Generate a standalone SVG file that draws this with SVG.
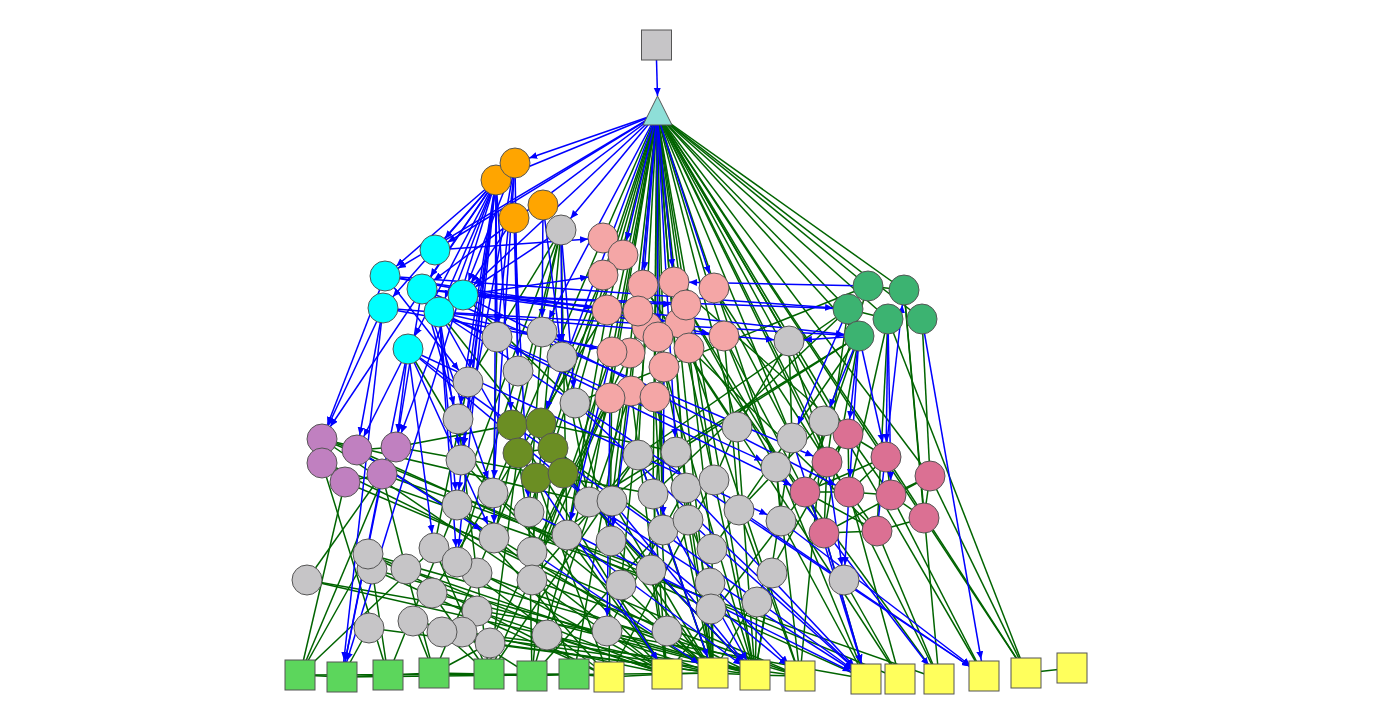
<svg xmlns="http://www.w3.org/2000/svg" width="1373" height="725" viewBox="0 0 1373 725">
<style>
.b{stroke:#0000ff;stroke-width:1.5;fill:none;marker-end:url(#ah)}
.bs{stroke:#0000ff;stroke-width:1.5;fill:none;marker-end:url(#as)}
.g{stroke:#006400;stroke-width:1.5;fill:none}
.n circle,.n rect,.n polygon{stroke:#555;stroke-width:1}
.gr{fill:#c6c5c7}.or{fill:#ffa500}.cy{fill:#00ffff}.pk{fill:#f4a6a6}.sg{fill:#3cb371}.pu{fill:#c080c0}.ol{fill:#6b8e23}.rd{fill:#db7093}.sq{fill:#5cd65c}.ye{fill:#ffff5c}
</style>
<defs>
<marker id="ah" markerUnits="userSpaceOnUse" markerWidth="10" markerHeight="8" refX="23" refY="3.5" orient="auto"><path d="M0,0 L8,3.5 L0,7 z" fill="#0000ff"/></marker>
<marker id="as" markerUnits="userSpaceOnUse" markerWidth="10" markerHeight="8" refX="25" refY="3.5" orient="auto"><path d="M0,0 L8,3.5 L0,7 z" fill="#0000ff"/></marker>
<marker id="a0" markerUnits="userSpaceOnUse" markerWidth="10" markerHeight="8" refX="8" refY="3.5" orient="auto"><path d="M0,0 L8,3.5 L0,7 z" fill="#0000ff"/></marker>
</defs>
<rect width="1373" height="725" fill="#fff"/>
<g id="connectors">
<!-- green -->
<line class="g" x1="657" y1="114" x2="868" y2="286"/>
<line class="g" x1="657" y1="114" x2="904" y2="290"/>
<line class="g" x1="657" y1="114" x2="848" y2="309"/>
<line class="g" x1="657" y1="114" x2="888" y2="319"/>
<line class="g" x1="657" y1="114" x2="922" y2="319"/>
<line class="g" x1="657" y1="114" x2="859" y2="336"/>
<line class="g" x1="657" y1="114" x2="848" y2="434"/>
<line class="g" x1="657" y1="114" x2="886" y2="457"/>
<line class="g" x1="657" y1="114" x2="930" y2="476"/>
<line class="g" x1="657" y1="114" x2="1026" y2="673"/>
<line class="g" x1="657" y1="114" x2="984" y2="676"/>
<line class="g" x1="657" y1="114" x2="789" y2="341"/>
<line class="g" x1="657" y1="114" x2="824" y2="421"/>
<line class="g" x1="657" y1="114" x2="737" y2="427"/>
<line class="g" x1="657" y1="114" x2="792" y2="438"/>
<line class="g" x1="657" y1="114" x2="603" y2="238"/>
<line class="g" x1="657" y1="114" x2="603" y2="275"/>
<line class="g" x1="657" y1="114" x2="607" y2="310"/>
<line class="g" x1="657" y1="114" x2="680" y2="323"/>
<line class="g" x1="657" y1="114" x2="724" y2="336"/>
<line class="g" x1="657" y1="114" x2="689" y2="348"/>
<line class="g" x1="657" y1="114" x2="664" y2="367"/>
<line class="g" x1="657" y1="114" x2="631" y2="391"/>
<line class="g" x1="657" y1="114" x2="655" y2="397"/>
<line class="g" x1="657" y1="114" x2="610" y2="398"/>
<line class="g" x1="657" y1="114" x2="612" y2="501"/>
<line class="g" x1="657" y1="114" x2="638" y2="455"/>
<line class="g" x1="657" y1="114" x2="686" y2="488"/>
<line class="g" x1="657" y1="114" x2="688" y2="520"/>
<line class="g" x1="657" y1="114" x2="653" y2="494"/>
<line class="g" x1="657" y1="114" x2="713" y2="673"/>
<line class="g" x1="657" y1="114" x2="755" y2="675"/>
<line class="g" x1="657" y1="114" x2="589" y2="502"/>
<line class="g" x1="657" y1="114" x2="553" y2="448"/>
<line class="g" x1="657" y1="114" x2="575" y2="403"/>
<line class="g" x1="657" y1="114" x2="714" y2="480"/>
<line class="g" x1="657" y1="114" x2="663" y2="530"/>
<line class="g" x1="657" y1="114" x2="612" y2="352"/>
<line class="g" x1="657" y1="114" x2="567" y2="535"/>
<line class="g" x1="657" y1="114" x2="827" y2="462"/>
<line class="g" x1="657" y1="114" x2="776" y2="467"/>
<line class="g" x1="657" y1="114" x2="939" y2="679"/>
<line class="g" x1="610" y1="398" x2="489" y2="674"/>
<line class="g" x1="610" y1="398" x2="532" y2="676"/>
<line class="g" x1="631" y1="391" x2="547" y2="635"/>
<line class="g" x1="655" y1="397" x2="667" y2="631"/>
<line class="g" x1="612" y1="352" x2="532" y2="580"/>
<line class="g" x1="630" y1="353" x2="532" y2="552"/>
<line class="g" x1="664" y1="367" x2="651" y2="570"/>
<line class="g" x1="689" y1="348" x2="712" y2="549"/>
<line class="g" x1="724" y1="336" x2="739" y2="510"/>
<line class="g" x1="724" y1="336" x2="805" y2="492"/>
<line class="g" x1="658" y1="337" x2="663" y2="530"/>
<line class="g" x1="680" y1="323" x2="714" y2="480"/>
<line class="g" x1="686" y1="305" x2="776" y2="467"/>
<line class="g" x1="714" y1="288" x2="792" y2="438"/>
<line class="g" x1="714" y1="288" x2="827" y2="462"/>
<line class="g" x1="674" y1="282" x2="848" y2="434"/>
<line class="g" x1="643" y1="285" x2="737" y2="427"/>
<line class="g" x1="638" y1="311" x2="611" y2="541"/>
<line class="g" x1="607" y1="310" x2="567" y2="535"/>
<line class="g" x1="603" y1="275" x2="529" y2="512"/>
<line class="g" x1="623" y1="255" x2="541" y2="423"/>
<line class="g" x1="603" y1="238" x2="493" y2="493"/>
<line class="g" x1="647" y1="327" x2="621" y2="585"/>
<line class="g" x1="655" y1="397" x2="713" y2="673"/>
<line class="g" x1="631" y1="391" x2="667" y2="674"/>
<line class="g" x1="664" y1="367" x2="755" y2="675"/>
<line class="g" x1="689" y1="348" x2="800" y2="676"/>
<line class="g" x1="612" y1="352" x2="609" y2="677"/>
<line class="g" x1="630" y1="353" x2="574" y2="674"/>
<line class="g" x1="610" y1="398" x2="490" y2="643"/>
<line class="g" x1="724" y1="336" x2="866" y2="679"/>
<line class="g" x1="603" y1="275" x2="434" y2="673"/>
<line class="g" x1="607" y1="310" x2="432" y2="593"/>
<line class="g" x1="643" y1="285" x2="900" y2="679"/>
<line class="g" x1="680" y1="323" x2="939" y2="679"/>
<line class="g" x1="658" y1="337" x2="711" y2="609"/>
<line class="g" x1="686" y1="305" x2="824" y2="533"/>
<line class="g" x1="689" y1="348" x2="877" y2="531"/>
<line class="g" x1="561" y1="230" x2="457" y2="505"/>
<line class="g" x1="561" y1="230" x2="494" y2="538"/>
<line class="g" x1="561" y1="230" x2="567" y2="535"/>
<line class="g" x1="561" y1="230" x2="512" y2="425"/>
<line class="g" x1="561" y1="230" x2="532" y2="552"/>
<line class="g" x1="561" y1="230" x2="468" y2="382"/>
<line class="g" x1="322" y1="439" x2="667" y2="674"/>
<line class="g" x1="357" y1="450" x2="713" y2="673"/>
<line class="g" x1="322" y1="463" x2="755" y2="675"/>
<line class="g" x1="345" y1="482" x2="800" y2="676"/>
<line class="g" x1="382" y1="474" x2="651" y2="570"/>
<line class="g" x1="396" y1="447" x2="653" y2="494"/>
<line class="g" x1="322" y1="439" x2="589" y2="502"/>
<line class="g" x1="357" y1="450" x2="866" y2="679"/>
<line class="g" x1="322" y1="439" x2="900" y2="679"/>
<line class="g" x1="322" y1="463" x2="939" y2="679"/>
<line class="g" x1="322" y1="463" x2="388" y2="675"/>
<line class="g" x1="345" y1="482" x2="300" y2="675"/>
<line class="g" x1="396" y1="447" x2="512" y2="425"/>
<line class="g" x1="382" y1="474" x2="406" y2="569"/>
<line class="g" x1="322" y1="439" x2="357" y2="450"/>
<line class="g" x1="357" y1="450" x2="396" y2="447"/>
<line class="g" x1="322" y1="463" x2="345" y2="482"/>
<line class="g" x1="345" y1="482" x2="382" y2="474"/>
<line class="g" x1="300" y1="675" x2="396" y2="447"/>
<line class="g" x1="300" y1="675" x2="368" y2="554"/>
<line class="g" x1="300" y1="675" x2="434" y2="548"/>
<line class="g" x1="307" y1="580" x2="713" y2="673"/>
<line class="g" x1="307" y1="580" x2="866" y2="679"/>
<line class="g" x1="307" y1="580" x2="382" y2="474"/>
<line class="g" x1="368" y1="554" x2="667" y2="674"/>
<line class="g" x1="368" y1="554" x2="800" y2="676"/>
<line class="g" x1="372" y1="569" x2="388" y2="675"/>
<line class="g" x1="372" y1="569" x2="755" y2="675"/>
<line class="g" x1="406" y1="569" x2="434" y2="673"/>
<line class="g" x1="434" y1="548" x2="489" y2="674"/>
<line class="g" x1="457" y1="562" x2="609" y2="677"/>
<line class="g" x1="477" y1="573" x2="755" y2="675"/>
<line class="g" x1="432" y1="593" x2="489" y2="674"/>
<line class="g" x1="477" y1="611" x2="667" y2="674"/>
<line class="g" x1="369" y1="628" x2="342" y2="677"/>
<line class="g" x1="369" y1="628" x2="713" y2="673"/>
<line class="g" x1="413" y1="621" x2="434" y2="673"/>
<line class="g" x1="442" y1="632" x2="755" y2="675"/>
<line class="g" x1="462" y1="632" x2="532" y2="676"/>
<line class="g" x1="490" y1="643" x2="713" y2="673"/>
<line class="g" x1="547" y1="635" x2="667" y2="674"/>
<line class="g" x1="607" y1="631" x2="755" y2="675"/>
<line class="g" x1="621" y1="585" x2="713" y2="673"/>
<line class="g" x1="532" y1="580" x2="800" y2="676"/>
<line class="g" x1="532" y1="552" x2="574" y2="674"/>
<line class="g" x1="494" y1="538" x2="667" y2="674"/>
<line class="g" x1="457" y1="505" x2="609" y2="677"/>
<line class="g" x1="457" y1="505" x2="388" y2="675"/>
<line class="g" x1="493" y1="493" x2="713" y2="673"/>
<line class="g" x1="529" y1="512" x2="532" y2="676"/>
<line class="g" x1="567" y1="535" x2="667" y2="674"/>
<line class="g" x1="611" y1="541" x2="713" y2="673"/>
<line class="g" x1="589" y1="502" x2="755" y2="675"/>
<line class="g" x1="612" y1="501" x2="713" y2="673"/>
<line class="g" x1="461" y1="460" x2="667" y2="674"/>
<line class="g" x1="458" y1="419" x2="489" y2="674"/>
<line class="g" x1="518" y1="371" x2="457" y2="562"/>
<line class="g" x1="468" y1="382" x2="434" y2="548"/>
<line class="g" x1="497" y1="337" x2="493" y2="493"/>
<line class="g" x1="542" y1="332" x2="529" y2="512"/>
<line class="g" x1="562" y1="357" x2="589" y2="502"/>
<line class="g" x1="575" y1="403" x2="611" y2="541"/>
<line class="g" x1="368" y1="554" x2="609" y2="677"/>
<line class="g" x1="406" y1="569" x2="713" y2="673"/>
<line class="g" x1="434" y1="548" x2="667" y2="674"/>
<line class="g" x1="432" y1="593" x2="755" y2="675"/>
<line class="g" x1="372" y1="569" x2="609" y2="677"/>
<line class="g" x1="413" y1="621" x2="667" y2="674"/>
<line class="g" x1="490" y1="643" x2="434" y2="673"/>
<line class="g" x1="462" y1="632" x2="800" y2="676"/>
<line class="g" x1="442" y1="632" x2="489" y2="674"/>
<line class="g" x1="737" y1="427" x2="755" y2="675"/>
<line class="g" x1="824" y1="421" x2="800" y2="676"/>
<line class="g" x1="792" y1="438" x2="755" y2="675"/>
<line class="g" x1="638" y1="455" x2="713" y2="673"/>
<line class="g" x1="676" y1="452" x2="713" y2="673"/>
<line class="g" x1="776" y1="467" x2="800" y2="676"/>
<line class="g" x1="653" y1="494" x2="667" y2="674"/>
<line class="g" x1="686" y1="488" x2="713" y2="673"/>
<line class="g" x1="714" y1="480" x2="755" y2="675"/>
<line class="g" x1="739" y1="510" x2="800" y2="676"/>
<line class="g" x1="781" y1="521" x2="866" y2="679"/>
<line class="g" x1="663" y1="530" x2="713" y2="673"/>
<line class="g" x1="688" y1="520" x2="755" y2="675"/>
<line class="g" x1="712" y1="549" x2="713" y2="673"/>
<line class="g" x1="651" y1="570" x2="667" y2="674"/>
<line class="g" x1="710" y1="583" x2="713" y2="673"/>
<line class="g" x1="772" y1="573" x2="755" y2="675"/>
<line class="g" x1="711" y1="609" x2="713" y2="673"/>
<line class="g" x1="757" y1="602" x2="755" y2="675"/>
<line class="g" x1="667" y1="631" x2="713" y2="673"/>
<line class="g" x1="844" y1="580" x2="900" y2="679"/>
<line class="g" x1="739" y1="510" x2="712" y2="549"/>
<line class="g" x1="776" y1="467" x2="781" y2="521"/>
<line class="g" x1="737" y1="427" x2="714" y2="480"/>
<line class="g" x1="638" y1="455" x2="489" y2="674"/>
<line class="g" x1="638" y1="455" x2="532" y2="580"/>
<line class="g" x1="676" y1="452" x2="532" y2="552"/>
<line class="g" x1="686" y1="488" x2="607" y2="631"/>
<line class="g" x1="714" y1="480" x2="609" y2="677"/>
<line class="g" x1="663" y1="530" x2="532" y2="676"/>
<line class="g" x1="824" y1="421" x2="739" y2="510"/>
<line class="g" x1="848" y1="434" x2="886" y2="457"/>
<line class="g" x1="827" y1="462" x2="849" y2="492"/>
<line class="g" x1="886" y1="457" x2="891" y2="495"/>
<line class="g" x1="930" y1="476" x2="891" y2="495"/>
<line class="g" x1="805" y1="492" x2="824" y2="533"/>
<line class="g" x1="849" y1="492" x2="877" y2="531"/>
<line class="g" x1="891" y1="495" x2="924" y2="518"/>
<line class="g" x1="827" y1="462" x2="805" y2="492"/>
<line class="g" x1="848" y1="434" x2="827" y2="462"/>
<line class="g" x1="849" y1="492" x2="891" y2="495"/>
<line class="g" x1="824" y1="533" x2="877" y2="531"/>
<line class="g" x1="877" y1="531" x2="924" y2="518"/>
<line class="g" x1="930" y1="476" x2="924" y2="518"/>
<line class="g" x1="886" y1="457" x2="849" y2="492"/>
<line class="g" x1="805" y1="492" x2="849" y2="492"/>
<line class="g" x1="848" y1="434" x2="849" y2="492"/>
<line class="g" x1="827" y1="462" x2="824" y2="533"/>
<line class="g" x1="848" y1="434" x2="891" y2="495"/>
<line class="g" x1="805" y1="492" x2="877" y2="531"/>
<line class="g" x1="930" y1="476" x2="824" y2="533"/>
<line class="g" x1="886" y1="457" x2="805" y2="492"/>
<line class="g" x1="824" y1="533" x2="866" y2="679"/>
<line class="g" x1="877" y1="531" x2="939" y2="679"/>
<line class="g" x1="849" y1="492" x2="900" y2="679"/>
<line class="g" x1="886" y1="457" x2="1026" y2="673"/>
<line class="g" x1="930" y1="476" x2="1026" y2="673"/>
<line class="g" x1="891" y1="495" x2="984" y2="676"/>
<line class="g" x1="848" y1="434" x2="713" y2="673"/>
<line class="g" x1="805" y1="492" x2="667" y2="674"/>
<line class="g" x1="859" y1="336" x2="805" y2="492"/>
<line class="g" x1="848" y1="309" x2="827" y2="462"/>
<line class="g" x1="859" y1="336" x2="824" y2="533"/>
<line class="g" x1="888" y1="319" x2="877" y2="531"/>
<line class="g" x1="868" y1="286" x2="805" y2="492"/>
<line class="g" x1="904" y1="290" x2="924" y2="518"/>
<line class="g" x1="922" y1="319" x2="930" y2="476"/>
<line class="g" x1="848" y1="309" x2="638" y2="455"/>
<line class="g" x1="859" y1="336" x2="676" y2="452"/>
<line class="g" x1="848" y1="309" x2="653" y2="494"/>
<line class="g" x1="859" y1="336" x2="589" y2="502"/>
<line class="g" x1="868" y1="286" x2="575" y2="403"/>
<line class="g" x1="888" y1="319" x2="849" y2="492"/>
<line class="g" x1="859" y1="336" x2="739" y2="510"/>
<line class="g" x1="888" y1="319" x2="1026" y2="673"/>
<line class="g" x1="904" y1="290" x2="939" y2="679"/>
<line class="g" x1="868" y1="286" x2="904" y2="290"/>
<line class="g" x1="848" y1="309" x2="888" y2="319"/>
<line class="g" x1="789" y1="341" x2="792" y2="438"/>
<line class="g" x1="789" y1="341" x2="827" y2="462"/>
<line class="g" x1="789" y1="341" x2="737" y2="427"/>
<line class="g" x1="512" y1="425" x2="541" y2="423"/>
<line class="g" x1="553" y1="448" x2="518" y2="453"/>
<line class="g" x1="536" y1="478" x2="563" y2="473"/>
<line class="g" x1="512" y1="425" x2="518" y2="453"/>
<line class="g" x1="541" y1="423" x2="553" y2="448"/>
<line class="g" x1="518" y1="453" x2="536" y2="478"/>
<line class="g" x1="553" y1="448" x2="563" y2="473"/>
<line class="g" x1="512" y1="425" x2="667" y2="674"/>
<line class="g" x1="541" y1="423" x2="713" y2="673"/>
<line class="g" x1="553" y1="448" x2="532" y2="676"/>
<line class="g" x1="518" y1="453" x2="489" y2="674"/>
<line class="g" x1="536" y1="478" x2="609" y2="677"/>
<line class="g" x1="563" y1="473" x2="755" y2="675"/>
<line class="g" x1="541" y1="423" x2="676" y2="452"/>
<line class="g" x1="518" y1="453" x2="532" y2="552"/>
<line class="g" x1="563" y1="473" x2="651" y2="570"/>
<line class="g" x1="553" y1="448" x2="663" y2="530"/>
<line class="g" x1="536" y1="478" x2="532" y2="580"/>
<line class="g" x1="463" y1="295" x2="575" y2="403"/>
<line class="g" x1="439" y1="312" x2="589" y2="502"/>
<line class="g" x1="408" y1="349" x2="493" y2="493"/>
<line class="g" x1="300" y1="675" x2="342" y2="677"/>
<line class="g" x1="342" y1="677" x2="388" y2="675"/>
<line class="g" x1="388" y1="675" x2="434" y2="673"/>
<line class="g" x1="434" y1="673" x2="489" y2="674"/>
<line class="g" x1="489" y1="674" x2="532" y2="676"/>
<line class="g" x1="532" y1="676" x2="574" y2="674"/>
<line class="g" x1="574" y1="674" x2="609" y2="677"/>
<line class="g" x1="609" y1="677" x2="667" y2="674"/>
<line class="g" x1="667" y1="674" x2="713" y2="673"/>
<line class="g" x1="713" y1="673" x2="755" y2="675"/>
<line class="g" x1="755" y1="675" x2="800" y2="676"/>
<line class="g" x1="1026" y1="673" x2="1072" y2="668"/>
<line class="g" x1="300" y1="675" x2="574" y2="674"/>
<line class="g" x1="342" y1="677" x2="713" y2="673"/>
<!-- blue -->
<line class="b" x1="657" y1="114" x2="515" y2="163"/>
<line class="b" x1="657" y1="114" x2="496" y2="180"/>
<line class="b" x1="657" y1="114" x2="385" y2="276"/>
<line class="b" x1="657" y1="114" x2="435" y2="250"/>
<line class="b" x1="657" y1="114" x2="422" y2="289"/>
<line class="b" x1="657" y1="114" x2="463" y2="295"/>
<line class="b" x1="657" y1="114" x2="674" y2="282"/>
<line class="b" x1="657" y1="114" x2="714" y2="288"/>
<line class="b" x1="657" y1="114" x2="643" y2="285"/>
<line class="b" x1="657" y1="114" x2="623" y2="255"/>
<line class="b" x1="657" y1="114" x2="658" y2="337"/>
<line class="b" x1="657" y1="114" x2="561" y2="230"/>
<line class="b" x1="657" y1="114" x2="542" y2="332"/>
<line class="b" x1="657" y1="114" x2="541" y2="423"/>
<line class="b" x1="657" y1="114" x2="676" y2="452"/>
<line class="b" x1="657" y1="114" x2="638" y2="311"/>
<line class="b" x1="496" y1="180" x2="385" y2="276"/>
<line class="b" x1="496" y1="180" x2="435" y2="250"/>
<line class="b" x1="496" y1="180" x2="383" y2="308"/>
<line class="b" x1="496" y1="180" x2="408" y2="349"/>
<line class="b" x1="496" y1="180" x2="322" y2="439"/>
<line class="b" x1="496" y1="180" x2="396" y2="447"/>
<line class="b" x1="496" y1="180" x2="458" y2="419"/>
<line class="b" x1="496" y1="180" x2="461" y2="460"/>
<line class="b" x1="496" y1="180" x2="457" y2="505"/>
<line class="b" x1="496" y1="180" x2="468" y2="382"/>
<line class="b" x1="496" y1="180" x2="497" y2="337"/>
<line class="b" x1="496" y1="180" x2="512" y2="425"/>
<line class="b" x1="496" y1="180" x2="494" y2="538"/>
<line class="b" x1="496" y1="180" x2="457" y2="562"/>
<line class="b" x1="496" y1="180" x2="422" y2="289"/>
<line class="b" x1="496" y1="180" x2="439" y2="312"/>
<line class="b" x1="515" y1="163" x2="518" y2="371"/>
<line class="b" x1="515" y1="163" x2="497" y2="337"/>
<line class="b" x1="515" y1="163" x2="463" y2="295"/>
<line class="b" x1="515" y1="163" x2="493" y2="493"/>
<line class="b" x1="515" y1="163" x2="461" y2="460"/>
<line class="b" x1="514" y1="218" x2="518" y2="371"/>
<line class="b" x1="514" y1="218" x2="529" y2="512"/>
<line class="b" x1="514" y1="218" x2="463" y2="295"/>
<line class="b" x1="543" y1="205" x2="562" y2="357"/>
<line class="b" x1="543" y1="205" x2="542" y2="332"/>
<line class="b" x1="561" y1="230" x2="562" y2="357"/>
<line class="b" x1="561" y1="230" x2="463" y2="295"/>
<line class="b" x1="561" y1="230" x2="575" y2="403"/>
<line class="b" x1="385" y1="276" x2="322" y2="439"/>
<line class="b" x1="383" y1="308" x2="322" y2="439"/>
<line class="b" x1="383" y1="308" x2="357" y2="450"/>
<line class="b" x1="408" y1="349" x2="396" y2="447"/>
<line class="b" x1="408" y1="349" x2="357" y2="450"/>
<line class="b" x1="422" y1="289" x2="396" y2="447"/>
<line class="b" x1="385" y1="276" x2="607" y2="310"/>
<line class="b" x1="422" y1="289" x2="638" y2="311"/>
<line class="b" x1="463" y1="295" x2="603" y2="275"/>
<line class="b" x1="422" y1="289" x2="859" y2="336"/>
<line class="b" x1="385" y1="276" x2="848" y2="309"/>
<line class="b" x1="383" y1="308" x2="789" y2="341"/>
<line class="b" x1="439" y1="312" x2="612" y2="352"/>
<line class="b" x1="422" y1="289" x2="680" y2="323"/>
<line class="b" x1="463" y1="295" x2="686" y2="305"/>
<line class="b" x1="439" y1="312" x2="859" y2="336"/>
<line class="b" x1="385" y1="276" x2="724" y2="336"/>
<line class="b" x1="383" y1="308" x2="630" y2="353"/>
<line class="b" x1="435" y1="250" x2="603" y2="238"/>
<line class="b" x1="422" y1="289" x2="458" y2="419"/>
<line class="b" x1="439" y1="312" x2="461" y2="460"/>
<line class="b" x1="439" y1="312" x2="457" y2="505"/>
<line class="b" x1="408" y1="349" x2="494" y2="538"/>
<line class="b" x1="422" y1="289" x2="493" y2="493"/>
<line class="b" x1="439" y1="312" x2="518" y2="453"/>
<line class="b" x1="408" y1="349" x2="434" y2="548"/>
<line class="b" x1="439" y1="312" x2="776" y2="467"/>
<line class="b" x1="422" y1="289" x2="827" y2="462"/>
<line class="b" x1="439" y1="312" x2="805" y2="492"/>
<line class="b" x1="463" y1="295" x2="849" y2="492"/>
<line class="b" x1="408" y1="349" x2="781" y2="521"/>
<line class="b" x1="439" y1="312" x2="457" y2="562"/>
<line class="b" x1="385" y1="276" x2="468" y2="382"/>
<line class="b" x1="868" y1="286" x2="674" y2="282"/>
<line class="b" x1="859" y1="336" x2="789" y2="341"/>
<line class="b" x1="848" y1="309" x2="463" y2="295"/>
<line class="b" x1="859" y1="336" x2="848" y2="434"/>
<line class="b" x1="859" y1="336" x2="886" y2="457"/>
<line class="b" x1="888" y1="319" x2="886" y2="457"/>
<line class="b" x1="888" y1="319" x2="891" y2="495"/>
<line class="b" x1="859" y1="336" x2="849" y2="492"/>
<line class="b" x1="859" y1="336" x2="824" y2="421"/>
<line class="b" x1="877" y1="531" x2="904" y2="290"/>
<line class="b" x1="848" y1="309" x2="792" y2="438"/>
<line class="b" x1="827" y1="462" x2="844" y2="580"/>
<line class="b" x1="849" y1="492" x2="844" y2="580"/>
<line class="b" x1="610" y1="398" x2="607" y2="631"/>
<line class="b" x1="631" y1="391" x2="611" y2="541"/>
<line class="b" x1="612" y1="352" x2="567" y2="535"/>
<line class="b" x1="664" y1="367" x2="663" y2="530"/>
<line class="b" x1="357" y1="450" x2="494" y2="538"/>
<line class="bs" x1="496" y1="180" x2="342" y2="677"/>
<line class="bs" x1="383" y1="308" x2="342" y2="677"/>
<line class="bs" x1="408" y1="349" x2="342" y2="677"/>
<line class="bs" x1="382" y1="474" x2="342" y2="677"/>
<line class="bs" x1="408" y1="349" x2="866" y2="679"/>
<line class="bs" x1="439" y1="312" x2="984" y2="676"/>
<line class="bs" x1="922" y1="319" x2="984" y2="676"/>
<line class="bs" x1="739" y1="510" x2="984" y2="676"/>
<line class="bs" x1="781" y1="521" x2="984" y2="676"/>
<line class="bs" x1="589" y1="502" x2="866" y2="679"/>
<line class="bs" x1="686" y1="488" x2="866" y2="679"/>
<line class="bs" x1="688" y1="520" x2="866" y2="679"/>
<line class="bs" x1="529" y1="512" x2="866" y2="679"/>
<line class="bs" x1="575" y1="403" x2="866" y2="679"/>
<line class="bs" x1="567" y1="535" x2="755" y2="675"/>
<line class="bs" x1="653" y1="494" x2="755" y2="675"/>
<line class="bs" x1="563" y1="473" x2="755" y2="675"/>
<line class="bs" x1="612" y1="501" x2="755" y2="675"/>
<line class="bs" x1="638" y1="455" x2="713" y2="673"/>
<line class="bs" x1="536" y1="478" x2="667" y2="674"/>
<line class="bs" x1="824" y1="533" x2="866" y2="679"/>
<line class="bs" x1="792" y1="438" x2="866" y2="679"/>
<line class="bs" x1="776" y1="467" x2="939" y2="679"/>
<line class="bs" x1="532" y1="552" x2="713" y2="673"/>
<line class="bs" x1="408" y1="349" x2="800" y2="676"/>
<line class="bs" x1="710" y1="583" x2="800" y2="676"/>
<line x1="656.5" y1="60" x2="657.5" y2="96" stroke="#0000ff" stroke-width="1.5" marker-end="url(#a0)"/>
</g>
<g id="nodes" class="n">
<g id="top"><rect class="gr" x="641.5" y="30" width="30" height="30"/></g>
<g id="hub"><polygon points="657.5,96 643,125 672,125" fill="#8edfd8"/></g>
<g id="orange"><circle class="or" cx="496" cy="180" r="15"/><circle class="or" cx="515" cy="163" r="15"/><circle class="or" cx="543" cy="205" r="15"/><circle class="or" cx="514" cy="218" r="15"/></g>
<g id="cyan"><circle class="cy" cx="435" cy="250" r="15"/><circle class="cy" cx="385" cy="276" r="15"/><circle class="cy" cx="422" cy="289" r="15"/><circle class="cy" cx="463" cy="295" r="15"/><circle class="cy" cx="383" cy="308" r="15"/><circle class="cy" cx="439" cy="312" r="15"/><circle class="cy" cx="408" cy="349" r="15"/></g>
<g id="pink"><circle class="pk" cx="603" cy="238" r="15"/><circle class="pk" cx="623" cy="255" r="15"/><circle class="pk" cx="603" cy="275" r="15"/><circle class="pk" cx="643" cy="285" r="15"/><circle class="pk" cx="674" cy="282" r="15"/><circle class="pk" cx="714" cy="288" r="15"/><circle class="pk" cx="647" cy="327" r="15"/><circle class="pk" cx="680" cy="323" r="15"/><circle class="pk" cx="686" cy="305" r="15"/><circle class="pk" cx="607" cy="310" r="15"/><circle class="pk" cx="638" cy="311" r="15"/><circle class="pk" cx="658" cy="337" r="15"/><circle class="pk" cx="724" cy="336" r="15"/><circle class="pk" cx="630" cy="353" r="15"/><circle class="pk" cx="612" cy="352" r="15"/><circle class="pk" cx="689" cy="348" r="15"/><circle class="pk" cx="664" cy="367" r="15"/><circle class="pk" cx="631" cy="391" r="15"/><circle class="pk" cx="610" cy="398" r="15"/><circle class="pk" cx="655" cy="397" r="15"/></g>
<g id="seagreen"><circle class="sg" cx="868" cy="286" r="15"/><circle class="sg" cx="904" cy="290" r="15"/><circle class="sg" cx="848" cy="309" r="15"/><circle class="sg" cx="888" cy="319" r="15"/><circle class="sg" cx="922" cy="319" r="15"/><circle class="sg" cx="859" cy="336" r="15"/></g>
<g id="purple"><circle class="pu" cx="322" cy="439" r="15"/><circle class="pu" cx="357" cy="450" r="15"/><circle class="pu" cx="396" cy="447" r="15"/><circle class="pu" cx="322" cy="463" r="15"/><circle class="pu" cx="345" cy="482" r="15"/><circle class="pu" cx="382" cy="474" r="15"/></g>
<g id="olive"><circle class="ol" cx="512" cy="425" r="15"/><circle class="ol" cx="541" cy="423" r="15"/><circle class="ol" cx="553" cy="448" r="15"/><circle class="ol" cx="518" cy="453" r="15"/><circle class="ol" cx="536" cy="478" r="15"/><circle class="ol" cx="563" cy="473" r="15"/></g>
<g id="rose"><circle class="rd" cx="848" cy="434" r="15"/><circle class="rd" cx="827" cy="462" r="15"/><circle class="rd" cx="886" cy="457" r="15"/><circle class="rd" cx="930" cy="476" r="15"/><circle class="rd" cx="805" cy="492" r="15"/><circle class="rd" cx="849" cy="492" r="15"/><circle class="rd" cx="891" cy="495" r="15"/><circle class="rd" cx="924" cy="518" r="15"/><circle class="rd" cx="824" cy="533" r="15"/><circle class="rd" cx="877" cy="531" r="15"/></g>
<g id="grey">
<circle class="gr" cx="561" cy="230" r="15"/><circle class="gr" cx="789" cy="341" r="15"/>
<circle class="gr" cx="497" cy="337" r="15"/><circle class="gr" cx="542" cy="332" r="15"/><circle class="gr" cx="562" cy="357" r="15"/><circle class="gr" cx="518" cy="371" r="15"/><circle class="gr" cx="468" cy="382" r="15"/><circle class="gr" cx="575" cy="403" r="15"/><circle class="gr" cx="458" cy="419" r="15"/><circle class="gr" cx="461" cy="460" r="15"/><circle class="gr" cx="457" cy="505" r="15"/><circle class="gr" cx="493" cy="493" r="15"/><circle class="gr" cx="529" cy="512" r="15"/><circle class="gr" cx="494" cy="538" r="15"/><circle class="gr" cx="532" cy="552" r="15"/><circle class="gr" cx="567" cy="535" r="15"/><circle class="gr" cx="589" cy="502" r="15"/><circle class="gr" cx="612" cy="501" r="15"/><circle class="gr" cx="611" cy="541" r="15"/>
<circle class="gr" cx="372" cy="569" r="15"/><circle class="gr" cx="368" cy="554" r="15"/><circle class="gr" cx="406" cy="569" r="15"/><circle class="gr" cx="434" cy="548" r="15"/><circle class="gr" cx="477" cy="573" r="15"/><circle class="gr" cx="457" cy="562" r="15"/><circle class="gr" cx="432" cy="593" r="15"/><circle class="gr" cx="477" cy="611" r="15"/><circle class="gr" cx="532" cy="580" r="15"/><circle class="gr" cx="307" cy="580" r="15"/><circle class="gr" cx="369" cy="628" r="15"/><circle class="gr" cx="413" cy="621" r="15"/><circle class="gr" cx="462" cy="632" r="15"/><circle class="gr" cx="442" cy="632" r="15"/><circle class="gr" cx="490" cy="643" r="15"/><circle class="gr" cx="547" cy="635" r="15"/><circle class="gr" cx="607" cy="631" r="15"/><circle class="gr" cx="621" cy="585" r="15"/>
<circle class="gr" cx="737" cy="427" r="15"/><circle class="gr" cx="824" cy="421" r="15"/><circle class="gr" cx="792" cy="438" r="15"/><circle class="gr" cx="638" cy="455" r="15"/><circle class="gr" cx="676" cy="452" r="15"/><circle class="gr" cx="776" cy="467" r="15"/><circle class="gr" cx="653" cy="494" r="15"/><circle class="gr" cx="686" cy="488" r="15"/><circle class="gr" cx="714" cy="480" r="15"/><circle class="gr" cx="739" cy="510" r="15"/><circle class="gr" cx="781" cy="521" r="15"/><circle class="gr" cx="663" cy="530" r="15"/><circle class="gr" cx="688" cy="520" r="15"/><circle class="gr" cx="712" cy="549" r="15"/><circle class="gr" cx="651" cy="570" r="15"/><circle class="gr" cx="710" cy="583" r="15"/><circle class="gr" cx="772" cy="573" r="15"/><circle class="gr" cx="711" cy="609" r="15"/><circle class="gr" cx="757" cy="602" r="15"/><circle class="gr" cx="667" cy="631" r="15"/><circle class="gr" cx="844" cy="580" r="15"/>
</g>
<g id="greensquares"><rect class="sq" x="285" y="660" width="30" height="30"/><rect class="sq" x="327" y="662" width="30" height="30"/><rect class="sq" x="373" y="660" width="30" height="30"/><rect class="sq" x="419" y="658" width="30" height="30"/><rect class="sq" x="474" y="659" width="30" height="30"/><rect class="sq" x="517" y="661" width="30" height="30"/><rect class="sq" x="559" y="659" width="30" height="30"/></g>
<g id="yellowsquares"><rect class="ye" x="594" y="662" width="30" height="30"/><rect class="ye" x="652" y="659" width="30" height="30"/><rect class="ye" x="698" y="658" width="30" height="30"/><rect class="ye" x="740" y="660" width="30" height="30"/><rect class="ye" x="785" y="661" width="30" height="30"/><rect class="ye" x="851" y="664" width="30" height="30"/><rect class="ye" x="885" y="664" width="30" height="30"/><rect class="ye" x="924" y="664" width="30" height="30"/><rect class="ye" x="969" y="661" width="30" height="30"/><rect class="ye" x="1011" y="658" width="30" height="30"/><rect class="ye" x="1057" y="653" width="30" height="30"/></g>
</g>
</svg>
